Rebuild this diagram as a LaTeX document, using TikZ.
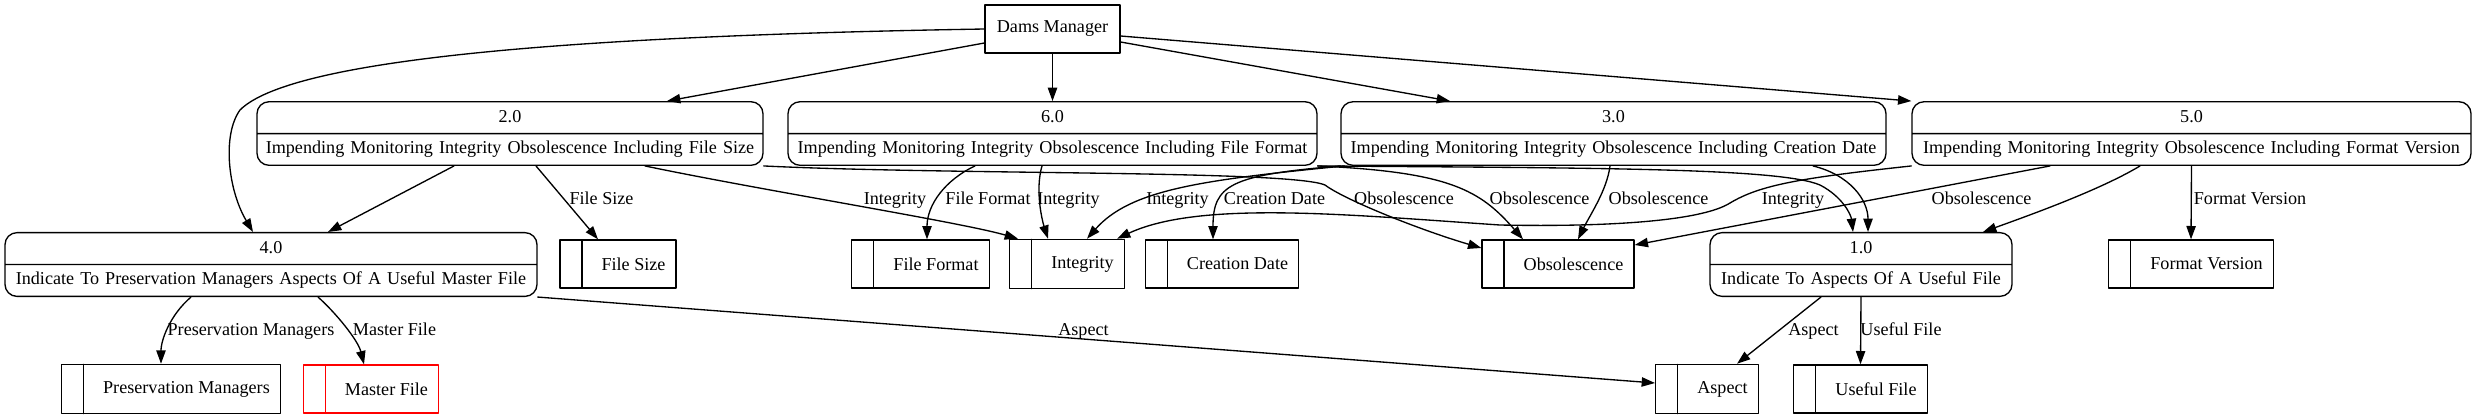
\documentclass[tikz,border=0pt]{standalone}
\usepackage{fontspec}
\setmainfont{Liberation Serif}
\usepackage{tikz}
\usetikzlibrary{shapes.multipart}
\usetikzlibrary{arrows.meta}
\usetikzlibrary{calc}

\begin{document}
\begin{tikzpicture}[line cap=round,line join=round,>={Triangle[length=10pt,width=7pt]},x=0.75pt,y=-0.75pt,line width=1pt,
    every node/.style={font=\fontsize{13.6}{16}\selectfont},
    ent/.style={draw, minimum width=101.25pt, minimum height=36pt, inner sep=0pt, text height=9.5pt, text depth=5pt},
    proc/.style={draw, rectangle split, rectangle split parts=2, rounded corners=9pt, align=center, inner xsep=0pt, inner ysep=5.2pt, text height=10pt, text depth=2.5pt},
    store/.style={draw, rectangle split, rectangle split horizontal, rectangle split parts=2, execute at begin node={\hspace*{6.25pt}}, inner xsep=8pt, inner ysep=11.5pt, text height=11pt, text depth=2pt},
    lbl/.style={inner sep=0pt, text height=9.5pt, text depth=0pt}]
                    \useasboundingbox (0,0) rectangle (2477,419);

                    \node[ent] (dm) at (1052.5,29) {Dams Manager};

                    \node[proc, text width=379.5pt] (p2) at (510,133.5) {2.0\nodepart{two}Impending Monitoring Integrity Obsolescence Including File Size};
                    \node[proc, text width=396.75pt] (p6) at (1052.5,133.5) {6.0\nodepart{two}Impending Monitoring Integrity Obsolescence Including File Format};
                    \node[proc, text width=408.75pt] (p3) at (1613.5,133.5) {3.0\nodepart{two}Impending Monitoring Integrity Obsolescence Including Creation Date};
                    \node[proc, text width=419.25pt] (p5) at (2191.5,133.5) {5.0\nodepart{two}Impending Monitoring Integrity Obsolescence Including Format Version};
                    \node[proc, text width=399pt] (p4) at (271,264.5) {4.0\nodepart{two}Indicate To Preservation Managers Aspects Of A Useful Master File};
                    \node[proc, text width=226.5pt] (p1) at (1861,264.5) {1.0\nodepart{two}Indicate To Aspects Of A Useful File};

                    \node[store] (fsize) at (618,264) {\nodepart{two}File Size};
                    \node[store] (fformat) at (920.5,264) {\nodepart{two}File Format};
                    \node[store] (integ) at (1067,264) {\nodepart{two}Integrity};
                    \node[store] (cdate) at (1222,264) {\nodepart{two}Creation Date};
                    \node[store] (obsol) at (1558,264) {\nodepart{two}Obsolescence};
                    \node[store] (fversion) at (2191,264) {\nodepart{two}Format Version};
                    \node[store] (presman) at (171,389) {\nodepart{two}Preservation Managers};
                    \node[store, draw=red] (master) at (371,389) {\nodepart{two}Master File};
                    \node[store] (aspect) at (1707,389) {\nodepart{two}Aspect};
                    \node[store] (useful) at (1860.5,389) {\nodepart{two}Useful File};

                    \draw[->] (dm.west) .. controls (560,36) and (290,60) .. (240,110) .. controls (222,135) and (228,190) .. ($(p4.north)+(-18,0)$);
                    \draw[->] ($(dm.west)+(0,14)$) -- ($(p2.north)+(157,0)$);
                    \draw[->] (dm.south) -- (p6.north);
                    \draw[->] ($(dm.east)+(0,13)$) -- ($(p3.north)+(-163.5,0)$);
                    \draw[->] ($(dm.east)+(0,7)$) -- (p5.north west);

                    \draw[->] ($(p2.south)+(-56,0)$) -- ($(p4.north)+(57,0)$);
                    \draw[->] ($(p2.south)+(26,0)$) -- ($(fsize.north)+(-20,0)$) node[lbl, at={(601.5,198)}] {File Size};
                    \draw[->] ($(p2.south)+(135,0)$) .. controls (760,190) and (960,222) .. ($(integ.north)+(-49,0)$) node[lbl, at={(895,198)}] {Integrity};
                    \draw[->] (p2.south east) .. controls (950,175) and (1290,170) .. (1325,185) .. controls (1345,200) and (1420,230) .. ($(obsol.west)+(0,-16)$) node[lbl, at={(1404,198)}] {Obsolescence};

                    \draw[->] ($(p6.south)+(-77.5,0)$) .. controls (945,180) and (927,205) .. ($(fformat.north)+(6.5,0)$) node[lbl, at={(988,198)}] {File Format};
                    \draw[->] ($(p6.south)+(-10.5,0)$) .. controls (1035,190) and (1042,220) .. ($(integ.north)+(-19,0)$) node[lbl, at={(1068.5,198)}] {Integrity};
                    \draw[->] (p6.south east) .. controls (1450,172) and (1480,190) .. ($(obsol.north)+(-35,0)$) node[lbl, at={(1539.5,198)}] {Obsolescence};
                    \draw[->] (p6.south east) .. controls (1600,168) and (1780,168) .. (1820,185) .. controls (1843,197) and (1851,215) .. ($(p1.north)+(-8,0)$);

                    \draw[->] ($(p3.south west)+(4,0)$) .. controls (1200,180) and (1130,190) .. ($(integ.north)+(20,0)$) node[lbl, at={(1177.5,198)}] {Integrity};
                    \draw[->] (p3.south west) .. controls (1230,175) and (1213,185) .. ($(cdate.north)+(-9,0)$) node[lbl, at={(1274.5,198)}] {Creation Date};
                    \draw[->] ($(p3.south)+(-3.5,0)$) .. controls (1607,190) and (1590,215) .. ($(obsol.north)+(20,0)$) node[lbl, at={(1658.5,198)}] {Obsolescence};
                    \draw[->] ($(p3.south)+(199.5,0)$) .. controls (1850,175) and (1868,200) .. ($(p1.north)+(7,0)$);

                    \draw[->] (p5.south west) .. controls (1800,178) and (1760,185) .. (1730,203) .. controls (1700,222) and (1600,227) .. (1500,225) .. controls (1350,215) and (1200,200) .. ($(integ.north)+(50,0)$) node[lbl, at={(1793,198)}] {Integrity};
                    \draw[->] ($(p5.south)+(-141.5,0)$) -- ($(obsol.east)+(0,-19)$) node[lbl, at={(1981.5,198)}] {Obsolescence};
                    \draw[->] ($(p5.south)+(-51.5,0)$) .. controls (2100,190) and (2030,215) .. ($(p1.north)+(122,0)$);
                    \draw[->] (p5.south) -- (fversion.north) node[lbl, at={(2250,198)}] {Format Version};

                    \draw[->] ($(p4.south)+(-80,0)$) .. controls (170,315) and (161,340) .. ($(presman.north)+(-10,0)$) node[lbl, at={(251,329)}] {Preservation Managers};
                    \draw[->] ($(p4.south)+(47,0)$) .. controls (335,312) and (358,340) .. ($(master.north)+(-7,0)$) node[lbl, at={(394.5,329)}] {Master File};
                    \draw[->] (p4.south east) -- ($(aspect.west)+(0,-6)$) node[lbl, at={(1083.5,329)}] {Aspect};

                    \draw[->] ($(p1.south)+(-40,0)$) -- ($(aspect.north)+(30,0)$) node[lbl, at={(1813.5,329)}] {Aspect};
                    \draw[->] (p1.south) -- (useful.north) node[lbl, at={(1901,329)}] {Useful File};
                \end{tikzpicture}
\end{document}
